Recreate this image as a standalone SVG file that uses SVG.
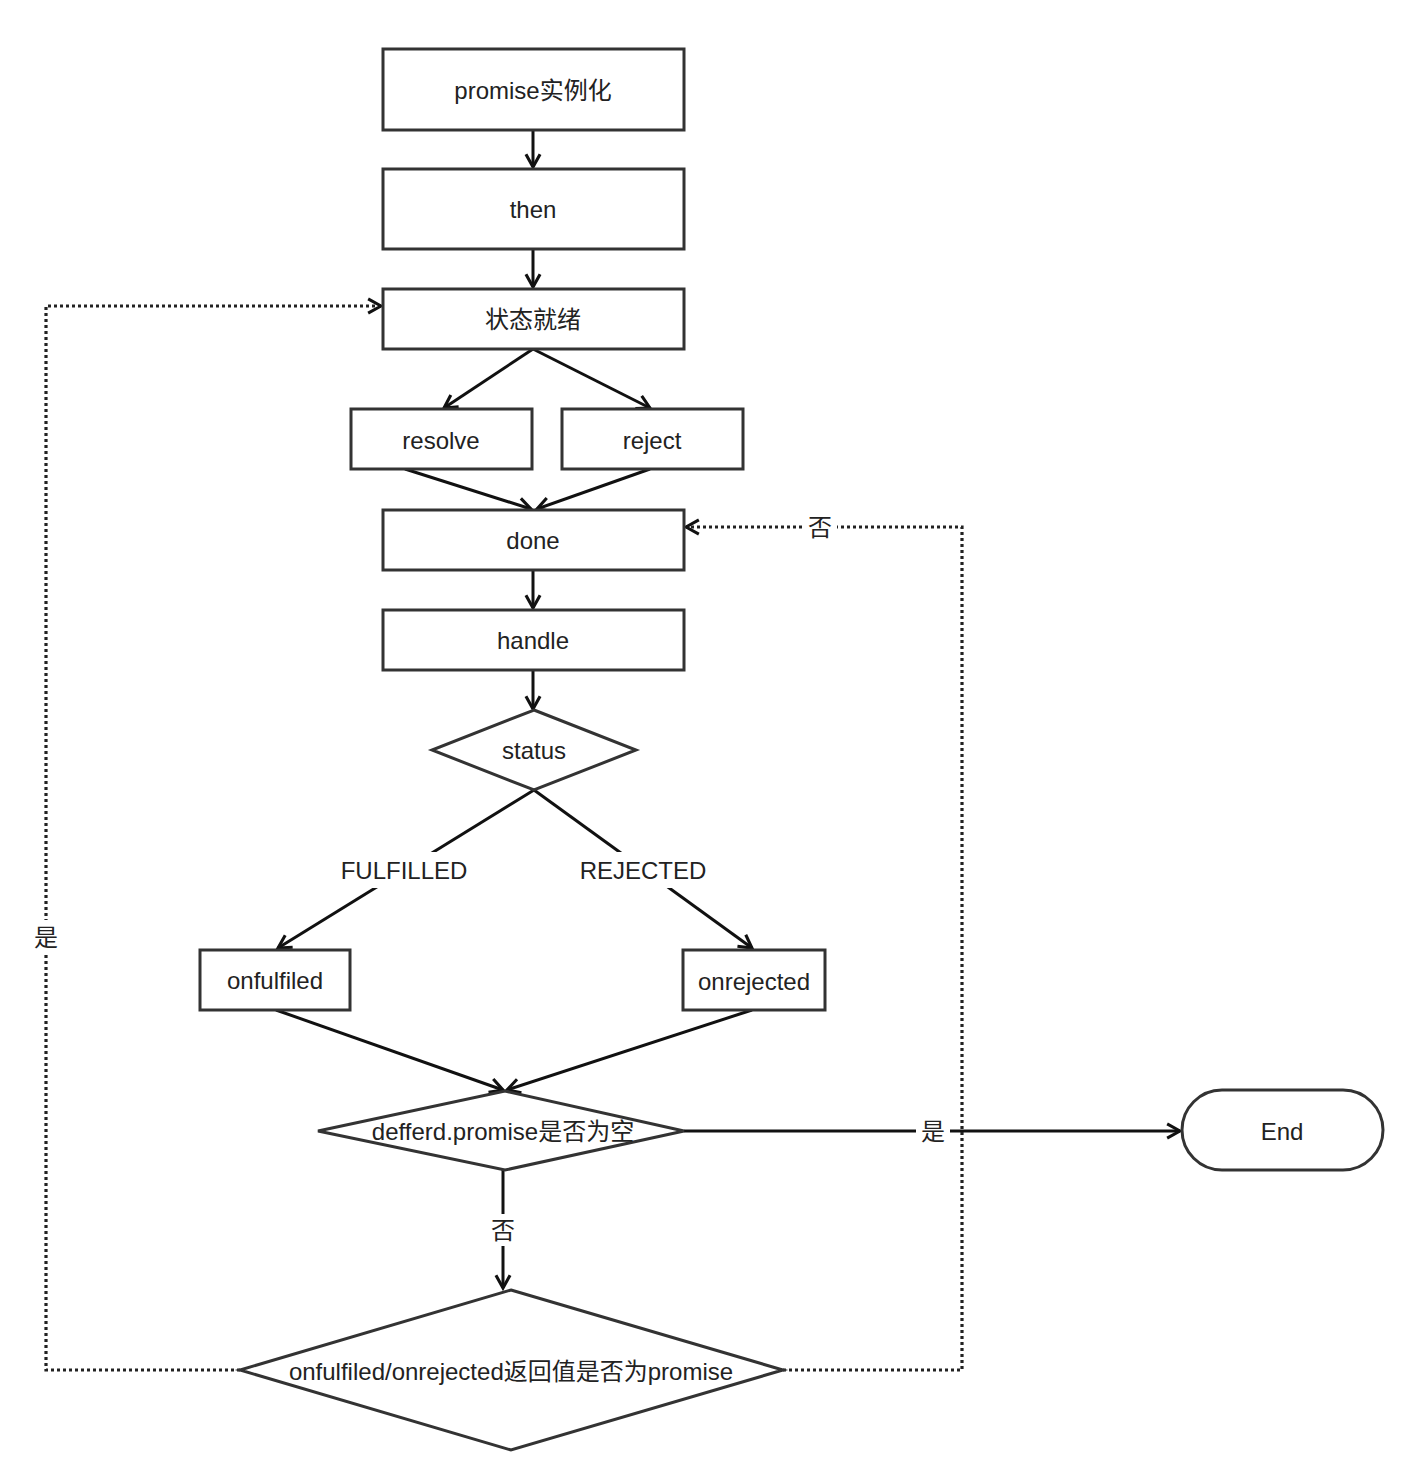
<svg xmlns="http://www.w3.org/2000/svg" width="1404" height="1478" viewBox="0 0 1404 1478">
<style>
.box{fill:#fff;stroke:#333;stroke-width:3}
.t{font-family:"Liberation Sans","Noto Sans CJK SC",sans-serif;font-size:24px;fill:#222;text-anchor:middle;dominant-baseline:central}
.ln{fill:none;stroke:#111;stroke-width:3}
.dot{fill:none;stroke:#222;stroke-width:3.2;stroke-dasharray:3 3}
.bg{fill:#fff}
</style>
<defs>
<marker id="arr" viewBox="0 0 14 14" markerWidth="18" markerHeight="18" refX="12" refY="7" orient="auto" markerUnits="userSpaceOnUse">
<path d="M2,1.5 L12,7 L2,12.5" fill="none" stroke="#111" stroke-width="2.4"/>
</marker>
</defs>
<rect width="1404" height="1478" fill="#fff"/>
<g id="connectors">
<line class="ln" x1="533" y1="130" x2="533" y2="167" marker-end="url(#arr)"/>
<line class="ln" x1="533" y1="249" x2="533" y2="287" marker-end="url(#arr)"/>
<line class="ln" x1="533" y1="349" x2="444" y2="408" marker-end="url(#arr)"/>
<line class="ln" x1="533" y1="349" x2="650" y2="408" marker-end="url(#arr)"/>
<line class="ln" x1="405" y1="469" x2="531" y2="509" marker-end="url(#arr)"/>
<line class="ln" x1="650" y1="469" x2="537" y2="509" marker-end="url(#arr)"/>
<line class="ln" x1="533" y1="570" x2="533" y2="608" marker-end="url(#arr)"/>
<line class="ln" x1="533" y1="670" x2="533" y2="709" marker-end="url(#arr)"/>
<line class="ln" x1="534" y1="790" x2="278" y2="948" marker-end="url(#arr)"/>
<line class="ln" x1="534" y1="790" x2="752" y2="948" marker-end="url(#arr)"/>
<line class="ln" x1="276" y1="1010" x2="503" y2="1090" marker-end="url(#arr)"/>
<line class="ln" x1="752" y1="1010" x2="507" y2="1090" marker-end="url(#arr)"/>
<line class="ln" x1="684" y1="1131" x2="1180" y2="1131" marker-end="url(#arr)"/>
<line class="ln" x1="503" y1="1170" x2="503" y2="1288" marker-end="url(#arr)"/>
<path class="dot" d="M240,1370 H46 V306 H381" marker-end="url(#arr)"/>
<path class="dot" d="M783,1370 H962 V527 H686" marker-end="url(#arr)"/>
<rect class="bg" x="334" y="852" width="140" height="36"/>
<text class="t" x="404" y="870">FULFILLED</text>
<rect class="bg" x="574" y="852" width="140" height="36"/>
<text class="t" x="643" y="870">REJECTED</text>
<rect class="bg" x="916" y="1116" width="34" height="30"/>
<text class="t" x="933" y="1131">是</text>
<rect class="bg" x="486" y="1214" width="34" height="32"/>
<text class="t" x="503" y="1230">否</text>
<rect class="bg" x="30" y="920" width="32" height="34"/>
<text class="t" x="46" y="937">是</text>
<rect class="bg" x="803" y="511" width="34" height="32"/>
<text class="t" x="820" y="527">否</text>
</g>
<g id="n1"><rect class="box" x="383" y="49" width="301" height="81"/><text class="t" x="533" y="90">promise实例化</text></g>
<g id="n2"><rect class="box" x="383" y="169" width="301" height="80"/><text class="t" x="533" y="209">then</text></g>
<g id="n3"><rect class="box" x="383" y="289" width="301" height="60"/><text class="t" x="533" y="319">状态就绪</text></g>
<g id="n4"><rect class="box" x="351" y="409" width="181" height="60"/><text class="t" x="441" y="440">resolve</text></g>
<g id="n5"><rect class="box" x="562" y="409" width="181" height="60"/><text class="t" x="652" y="440">reject</text></g>
<g id="n6"><rect class="box" x="383" y="510" width="301" height="60"/><text class="t" x="533" y="540">done</text></g>
<g id="n7"><rect class="box" x="383" y="610" width="301" height="60"/><text class="t" x="533" y="640">handle</text></g>
<g id="n8"><polygon class="box" points="534,710 636,750 534,790 432,750"/><text class="t" x="534" y="750">status</text></g>
<g id="n9"><rect class="box" x="200" y="950" width="150" height="60"/><text class="t" x="275" y="980">onfulfiled</text></g>
<g id="n10"><rect class="box" x="683" y="950" width="142" height="60"/><text class="t" x="754" y="981">onrejected</text></g>
<g id="n11"><polygon class="box" points="505,1091 684,1131 505,1170 318,1131"/><text class="t" x="503" y="1131">defferd.promise是否为空</text></g>
<g id="n12"><rect class="box" x="1182" y="1090" width="201" height="80" rx="40" ry="40"/><text class="t" x="1282" y="1131">End</text></g>
<g id="n13"><polygon class="box" points="511,1290 783,1370 511,1450 240,1370"/><text class="t" x="511" y="1371">onfulfiled/onrejected返回值是否为promise</text></g>
</svg>
